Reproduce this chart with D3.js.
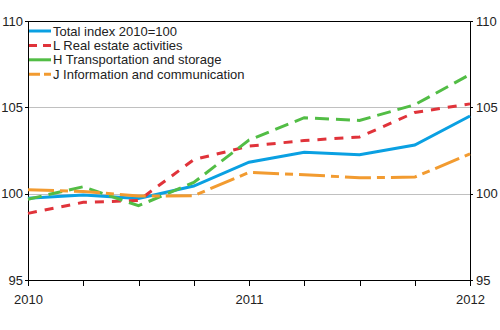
<!DOCTYPE html>
<html>
<head>
<meta charset="utf-8">
<script src="https://cdn.jsdelivr.net/npm/d3@7"></script>
<style>
  body { margin: 0; background: #fff; }
  svg text { font-family: "Liberation Sans", Arial, sans-serif; font-size: 13px; fill: #222; }
  .axis path, .axis line { stroke: #000; shape-rendering: crispEdges; }
</style>
</head>
<body>
<div id="chart"></div>
<script>
// quarterly index, 2010=100
const quarters = ["2010Q1", "2010Q2", "2010Q3", "2010Q4", "2011Q1", "2011Q2", "2011Q3", "2011Q4", "2012Q1"];
const yearLabels = ["2010", "", "", "", "2011", "", "", "", "2012"];
const yTicks = [95, 100, 105, 110];

const total      = [99.73, 99.92, 99.72, 100.44, 101.82, 102.4, 102.25, 102.82, 104.5];
const realEstate = [98.86, 99.5, 99.6, 101.97, 102.75, 103.08, 103.28, 104.7, 105.2];
const transport  = [99.68, 100.4, 99.3, 100.65, 103.1, 104.4, 104.24, 105.15, 106.9];
const infoComm   = [100.23, 100.13, 99.86, 99.88, 101.23, 101.1, 100.92, 100.96, 102.3];

const seriesNames = ["Total index 2010=100", "L Real estate activities", "H Transportation and storage", "J Information and communication"];
const seriesColors = ["#0aa0e2", "#e0333a", "#52bd45", "#f29b30"];
const seriesDash = [null, "9,8", "14,7", "26,6,8,6"];
const legendDash = [null, "8,6", null, "11,4"];

const WIDTH = 500, HEIGHT = 330;
const MARGIN = { TOP: 21, BOTTOM: 50, LEFT: 28, RIGHT: 30 };

const svg = d3.select("#chart").append("svg")
  .attr("width", WIDTH)
  .attr("height", HEIGHT);

const x = d3.scaleLinear()
  .domain([0, quarters.length - 1])
  .range([MARGIN.LEFT, WIDTH - MARGIN.RIGHT]);

const y = d3.scaleLinear()
  .domain([95, 110])
  .range([HEIGHT - MARGIN.BOTTOM, MARGIN.TOP]);

// gridlines
svg.append("g")
  .selectAll("line")
  .data(yTicks.filter(d => d > 95 && d < 110))
  .join("line")
  .attr("x1", x.range()[0])
  .attr("x2", x.range()[1])
  .attr("y1", d => Math.round(y(d)) + 0.5)
  .attr("y2", d => Math.round(y(d)) + 0.5)
  .attr("stroke", "#c0c0c0")
  .attr("stroke-width", 1);

// frame top
svg.append("line")
  .attr("x1", x.range()[0])
  .attr("x2", x.range()[1])
  .attr("y1", Math.round(y(110)) + 0.5)
  .attr("y2", Math.round(y(110)) + 0.5)
  .attr("stroke", "#000");

const yLeft = d3.axisLeft(y).tickValues(yTicks).tickSize(3).tickPadding(2).tickFormat(d3.format("d"));
const yRight = d3.axisRight(y).tickValues(yTicks).tickSize(3).tickPadding(3).tickFormat(d3.format("d"));

svg.append("g")
  .attr("class", "axis")
  .attr("transform", `translate(${x.range()[0]},0)`)
  .call(yLeft)
  .call(g => g.select(".domain").remove())
  .call(g => g.append("line").attr("x1", 0).attr("x2", 0)
      .attr("y1", y(110)).attr("y2", y(95)).attr("stroke", "#000"));

svg.append("g")
  .attr("class", "axis")
  .attr("transform", `translate(${x.range()[1]},0)`)
  .call(yRight)
  .call(g => g.select(".domain").remove())
  .call(g => g.append("line").attr("x1", 0).attr("x2", 0)
      .attr("y1", y(110)).attr("y2", y(95)).attr("stroke", "#000"));

svg.append("g")
  .attr("class", "axis")
  .attr("transform", `translate(0,${y(95)})`)
  .call(d3.axisBottom(x)
    .tickValues(d3.range(quarters.length))
    .tickSize(6)
    .tickPadding(9)
    .tickFormat(i => yearLabels[i]))
  .call(g => g.select(".domain").attr("d", `M${x.range()[0]},0.5H${x.range()[1]}`));

svg.selectAll(".axis text").attr("font-size", 13).attr("font-family", "Liberation Sans, Arial, sans-serif");

const allSeries = [total, realEstate, transport, infoComm];

const line = d3.line()
  .x((d, i) => x(i))
  .y(d => y(d));

svg.append("g")
  .selectAll("path")
  .data(allSeries)
  .join("path")
  .attr("d", line)
  .attr("fill", "none")
  .attr("stroke", (d, i) => seriesColors[i])
  .attr("stroke-width", 3)
  .attr("stroke-dasharray", (d, i) => seriesDash[i]);

// legend
const legend = svg.append("g")
  .selectAll("g")
  .data(seriesNames)
  .join("g")
  .attr("transform", (d, i) => `translate(29,${31 + i * 14.4})`);

legend.append("line")
  .attr("x1", 0)
  .attr("x2", 22)
  .attr("stroke", (d, i) => seriesColors[i])
  .attr("stroke-width", 3)
  .attr("stroke-dasharray", (d, i) => legendDash[i]);

legend.append("text")
  .attr("x", 24)
  .attr("dy", "0.36em")
  .text(d => d);
</script>
</body>
</html>
